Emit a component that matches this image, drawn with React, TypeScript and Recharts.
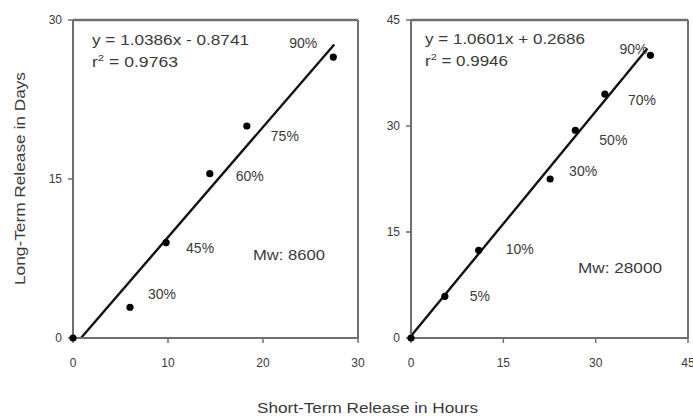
import React from 'react';
import { ComposedChart, Scatter, XAxis, YAxis, ReferenceLine } from 'recharts';

// Mw 8600 polymer: short-term (hours) vs long-term (days) release
const lowMwHours = [0, 6, 9.8, 14.4, 18.3, 27.4];
const lowMwDays = [0, 2.9, 9, 15.5, 20, 26.5];
const lowMwPercent = ['', '30%', '45%', '60%', '75%', '90%'];
const lowMwTicks = [0, 10, 20, 30];
const lowMwDayTicks = [0, 15, 30];
const lowMwSlope = 1.0386;
const lowMwIntercept = -0.8741;
const lowMwR2 = '0.9763';

// Mw 28000 polymer
const highMwHours = [0, 5.5, 11, 22.6, 26.7, 31.5, 38.9];
const highMwDays = [0, 5.9, 12.4, 22.5, 29.4, 34.5, 40];
const highMwPercent = ['', '5%', '10%', '30%', '50%', '70%', '90%'];
const highMwTicks = [0, 15, 30, 45];
const highMwSlope = 1.0601;
const highMwIntercept = 0.2686;
const highMwR2 = '0.9946';

// label offsets (px) from each marker
const lowOffsets: [number, number][] = [[0, 0], [32, -13], [34, 5], [40, 2], [38, 10], [-30, -14]];
const highOffsets: [number, number][] = [[0, 0], [35, 0], [41, -1], [33, -8], [38, 10], [37, 6], [-17, -6]];

const FONT = '"Liberation Sans", Arial, sans-serif';
const TEXT = '#3a3a3a';
const AXIS = '#6f6f6f';

type Row = { x: number; y: number; label: string; i: number };

const rows = (xs: number[], ys: number[], labels: string[]): Row[] =>
  xs.map((x, i) => ({ x, y: ys[i], label: labels[i], i }));

const makeShape = (offsets: [number, number][]) => (props: any) => {
  const { cx, cy, payload } = props;
  const [dx, dy] = offsets[payload.i] || [0, 0];
  return (
    <g>
      <circle cx={cx} cy={cy} r={3.6} fill="#000" />
      {payload.label ? (
        <text x={cx + dx} y={cy + dy} textAnchor="middle" dominantBaseline="central"
          fontFamily={FONT} fontSize={14} fill={TEXT}>{payload.label}</text>
      ) : null}
    </g>
  );
};

const tickStyle = { fontFamily: FONT, fontSize: 12, fill: TEXT };

function Panel(props: {
  width: number; marginLeft: number; marginRight: number; yWidth: number;
  data: Row[]; xTicks: number[]; yTicks: number[]; max: number;
  fit: [number, number]; slope: number; intercept: number; offsets: [number, number][];
}) {
  const { width, marginLeft, marginRight, yWidth, data, xTicks, yTicks, max, fit, slope, intercept, offsets } = props;
  return (
    <ComposedChart width={width} height={419}
      margin={{ top: 20, right: marginRight, bottom: 51, left: marginLeft }}>
      <XAxis type="number" dataKey="x" domain={[0, max]} ticks={xTicks} interval={0}
        height={30} tick={tickStyle} tickSize={5} tickMargin={15}
        axisLine={{ stroke: AXIS, strokeWidth: 2 }} tickLine={{ stroke: AXIS, strokeWidth: 1.5 }} />
      <YAxis type="number" dataKey="y" domain={[0, max]} ticks={yTicks} interval={0}
        width={yWidth} tick={tickStyle} tickSize={5} tickMargin={6}
        axisLine={{ stroke: AXIS, strokeWidth: 2 }} tickLine={{ stroke: AXIS, strokeWidth: 1.5 }} />
      <ReferenceLine y={max} stroke={AXIS} strokeWidth={2.5} />
      <ReferenceLine x={max} stroke={AXIS} strokeWidth={2} />
      <ReferenceLine
        segment={[
          { x: fit[0], y: slope * fit[0] + intercept },
          { x: fit[1], y: slope * fit[1] + intercept },
        ]}
        stroke="#111" strokeWidth={2.4} />
      <Scatter data={data} dataKey="y" isAnimationActive={false} shape={makeShape(offsets)} />
    </ComposedChart>
  );
}

export default function App() {
  const lowData = rows(lowMwHours, lowMwDays, lowMwPercent);
  const highData = rows(highMwHours, highMwDays, highMwPercent);
  const fmt = (v: number) => (v < 0 ? `- ${Math.abs(v).toFixed(4)}` : `+ ${v.toFixed(4)}`);
  const stretch = 'spacingAndGlyphs';
  return (
    <div style={{ position: 'absolute', left: 0, top: 0, width: 693, height: 419, background: '#fff', overflow: 'hidden' }}>
      <div style={{ position: 'absolute', left: 0, top: 0 }}>
        <Panel width={370} marginLeft={30} marginRight={12} yWidth={43}
          data={lowData} xTicks={lowMwTicks} yTicks={lowMwDayTicks} max={30}
          fit={[-lowMwIntercept / lowMwSlope, 27.5]} slope={lowMwSlope} intercept={lowMwIntercept}
          offsets={lowOffsets} />
      </div>
      <div style={{ position: 'absolute', left: 360, top: 0 }}>
        <Panel width={333} marginLeft={11} marginRight={5} yWidth={40}
          data={highData} xTicks={highMwTicks} yTicks={highMwTicks} max={45}
          fit={[0, 38.4]} slope={highMwSlope} intercept={highMwIntercept}
          offsets={highOffsets} />
      </div>
      <svg width={693} height={419} style={{ position: 'absolute', left: 0, top: 0, pointerEvents: 'none' }}>
        <g fontFamily={FONT} fill={TEXT}>
          <text x={92} y={45} fontSize={14} textLength={157} lengthAdjust={stretch}>{`y = ${lowMwSlope}x ${fmt(lowMwIntercept)}`}</text>
          <text x={92} y={67} fontSize={14} textLength={86} lengthAdjust={stretch}>r<tspan dy={-6} fontSize={9}>2</tspan><tspan dy={6}>{` = ${lowMwR2}`}</tspan></text>
          <text x={253} y={260} fontSize={15} textLength={72} lengthAdjust={stretch}>Mw: 8600</text>

          <text x={425} y={44} fontSize={14} textLength={160} lengthAdjust={stretch}>{`y = ${highMwSlope}x ${fmt(highMwIntercept)}`}</text>
          <text x={425} y={66} fontSize={14} textLength={83} lengthAdjust={stretch}>r<tspan dy={-6} fontSize={9}>2</tspan><tspan dy={6}>{` = ${highMwR2}`}</tspan></text>
          <text x={578} y={273} fontSize={15} textLength={84} lengthAdjust={stretch}>Mw: 28000</text>

          <text x={257} y={413} fontSize={14} textLength={221} lengthAdjust={stretch}>Short-Term Release in Hours</text>
          <text x={25} y={285} fontSize={14} textLength={213} lengthAdjust={stretch}
            transform="rotate(-90 25 285)">Long-Term Release in Days</text>
        </g>
      </svg>
    </div>
  );
}
